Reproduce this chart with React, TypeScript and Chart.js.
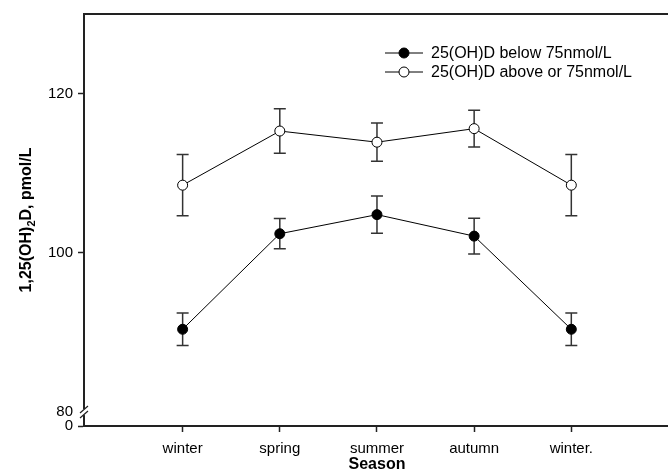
import { useEffect, useRef } from 'react';
import { Chart, registerables } from 'chart.js';

Chart.register(...registerables);

const categories = ['winter', 'spring', 'summer', 'autumn', 'winter.'];
const belowLabel = '25(OH)D below 75nmol/L';
const aboveLabel = '25(OH)D above or 75nmol/L';
const belowMeans = [90.4, 102.4, 104.8, 102.1, 90.4];
const belowErrors = [2.05, 1.9, 2.35, 2.25, 2.05];
const aboveMeans = [108.5, 115.3, 113.9, 115.6, 108.5];
const aboveErrors = [3.85, 2.8, 2.4, 2.3, 3.85];
const yTickValues = [80, 100, 120];
const yBreakValue = 78.25; // bottom of the broken axis, labelled "0"
const yBreakLabel = '0';
const yMax = 130;
const xMin = -0.015;
const xMax = 5.995;

const FONT = '"Liberation Sans", Arial, sans-serif';
const AXIS = '#222';

const errorBars = {
  id: 'errorBars',
  beforeDatasetsDraw(chart: any) {
    const { ctx } = chart;
    const ys = chart.scales.y;
    chart.data.datasets.forEach((ds: any, i: number) => {
      const meta = chart.getDatasetMeta(i);
      ctx.save();
      ctx.strokeStyle = '#333';
      ctx.lineWidth = 1.5;
      meta.data.forEach((pt: any, j: number) => {
        const v = ds.data[j].y;
        const e = ds.errors[j];
        const yt = ys.getPixelForValue(v + e);
        const yb = ys.getPixelForValue(v - e);
        const x = pt.x;
        ctx.beginPath();
        ctx.moveTo(x, yt);
        ctx.lineTo(x, yb);
        ctx.moveTo(x - 6, yt);
        ctx.lineTo(x + 6, yt);
        ctx.moveTo(x - 6, yb);
        ctx.lineTo(x + 6, yb);
        ctx.stroke();
      });
      ctx.restore();
    });
  },
};

const decorations = {
  id: 'decorations',
  afterDraw(chart: any) {
    const { ctx, chartArea } = chart;
    ctx.save();
    // top frame line
    ctx.strokeStyle = AXIS;
    ctx.lineWidth = 2;
    ctx.beginPath();
    ctx.moveTo(chartArea.left - 1, chartArea.top);
    ctx.lineTo(chartArea.right, chartArea.top);
    ctx.stroke();

    // axis break
    const ys = chart.scales.y;
    const yb = ys.getPixelForValue(80);
    const x = chartArea.left;
    ctx.fillStyle = '#fff';
    ctx.fillRect(x - 3, yb - 3, 6, 6);
    ctx.strokeStyle = AXIS;
    ctx.lineWidth = 1.2;
    ctx.beginPath();
    ctx.moveTo(x - 4, yb + 1);
    ctx.lineTo(x + 4, yb - 6);
    ctx.moveTo(x - 4, yb + 6);
    ctx.lineTo(x + 4, yb - 1);
    ctx.stroke();

    // y title with subscript
    ctx.fillStyle = '#000';
    ctx.translate(25, (chartArea.top + chartArea.bottom) / 2);
    ctx.rotate(-Math.PI / 2);
    const big = `bold 16px ${FONT}`;
    const small = `bold 11px ${FONT}`;
    const parts = [
      { t: '1,25(OH)', f: big, dy: 0 },
      { t: '2', f: small, dy: 4 },
      { t: 'D, pmol/L', f: big, dy: 0 },
    ];
    let total = 0;
    parts.forEach((p) => {
      ctx.font = p.f;
      total += ctx.measureText(p.t).width;
    });
    let cx = -total / 2;
    ctx.textBaseline = 'alphabetic';
    ctx.textAlign = 'left';
    parts.forEach((p) => {
      ctx.font = p.f;
      ctx.fillText(p.t, cx, 6 + p.dy);
      cx += ctx.measureText(p.t).width;
    });
    ctx.restore();

    // x title
    ctx.save();
    ctx.fillStyle = '#000';
    ctx.font = `bold 16px ${FONT}`;
    ctx.textAlign = 'center';
    ctx.textBaseline = 'middle';
    ctx.fillText('Season', 377, 465);
    ctx.restore();

    // legend
    ctx.save();
    chart.data.datasets.forEach((ds: any, i: number) => {
      const y = 53 + i * 19;
      ctx.strokeStyle = '#000';
      ctx.lineWidth = 1;
      ctx.beginPath();
      ctx.moveTo(385, y);
      ctx.lineTo(423, y);
      ctx.stroke();
      ctx.beginPath();
      ctx.arc(404, y, 5, 0, Math.PI * 2);
      ctx.fillStyle = ds.pointBackgroundColor;
      ctx.fill();
      ctx.strokeStyle = '#000';
      ctx.stroke();
      ctx.fillStyle = '#000';
      ctx.font = `16px ${FONT}`;
      ctx.textAlign = 'left';
      ctx.textBaseline = 'middle';
      ctx.fillText(ds.label, 431, y + 1);
    });
    ctx.restore();
  },
};

export default function App() {
  const ref = useRef<HTMLCanvasElement>(null);
  useEffect(() => {
    const chart = new Chart(ref.current as HTMLCanvasElement, {
      type: 'line',
      data: {
        datasets: [
          {
            label: belowLabel,
            data: belowMeans.map((y, i) => ({ x: i + 1, y })),
            errors: belowErrors,
            borderColor: '#000',
            borderWidth: 1,
            pointRadius: 5,
            pointBorderWidth: 1,
            pointBackgroundColor: '#000',
            pointBorderColor: '#000',
            tension: 0,
          } as any,
          {
            label: aboveLabel,
            data: aboveMeans.map((y, i) => ({ x: i + 1, y })),
            errors: aboveErrors,
            borderColor: '#000',
            borderWidth: 1,
            pointRadius: 5,
            pointBorderWidth: 1,
            pointBackgroundColor: '#fff',
            pointBorderColor: '#000',
            tension: 0,
          } as any,
        ],
      },
      options: {
        animation: false,
        responsive: false,
        layout: { autoPadding: false, padding: { top: 14, left: 0, right: 0, bottom: 0 } },
        plugins: {
          legend: { display: false },
          tooltip: { enabled: false },
        },
        scales: {
          x: {
            type: 'linear',
            min: xMin,
            max: xMax,
            afterBuildTicks: (scale: any) => {
              scale.ticks = categories.map((_, i) => ({ value: i + 1 }));
            },
            afterFit: (scale: any) => {
              scale.height = 46;
              scale.paddingLeft = 0;
              scale.paddingRight = 0;
            },
            ticks: {
              autoSkip: false,
              maxRotation: 0,
              padding: 8,
              color: '#000',
              font: { family: FONT, size: 15 },
              callback: (v: any) => categories[Math.round(Number(v)) - 1] ?? '',
            },
            grid: {
              drawOnChartArea: false,
              drawTicks: true,
              tickLength: 6,
              tickWidth: 1.5,
              tickColor: AXIS,
            },
            border: { display: true, color: AXIS, width: 2 },
          },
          y: {
            type: 'linear',
            min: yBreakValue,
            max: yMax,
            afterBuildTicks: (scale: any) => {
              scale.ticks = [yBreakValue, ...yTickValues].map((v) => ({ value: v }));
            },
            afterFit: (scale: any) => {
              scale.width = 84;
            },
            ticks: {
              autoSkip: false,
              padding: 5,
              color: '#000',
              font: { family: FONT, size: 15 },
              callback: (v: any) => (Number(v) === yBreakValue ? yBreakLabel : String(v)),
            },
            grid: {
              drawOnChartArea: false,
              drawTicks: true,
              tickLength: 6,
              tickWidth: 1.5,
              tickColor: (c: any) => (c.tick && c.tick.value === 80 ? 'rgba(0,0,0,0)' : AXIS),
            },
            border: { display: true, color: AXIS, width: 2 },
          },
        },
      },
      plugins: [errorBars, decorations],
    });
    return () => chart.destroy();
  }, []);
  return (
    <div style={{ position: 'absolute', left: 0, top: 0, width: 668, height: 472, background: '#fff' }}>
      <canvas ref={ref} width={668} height={472} style={{ display: 'block' }} />
    </div>
  );
}
